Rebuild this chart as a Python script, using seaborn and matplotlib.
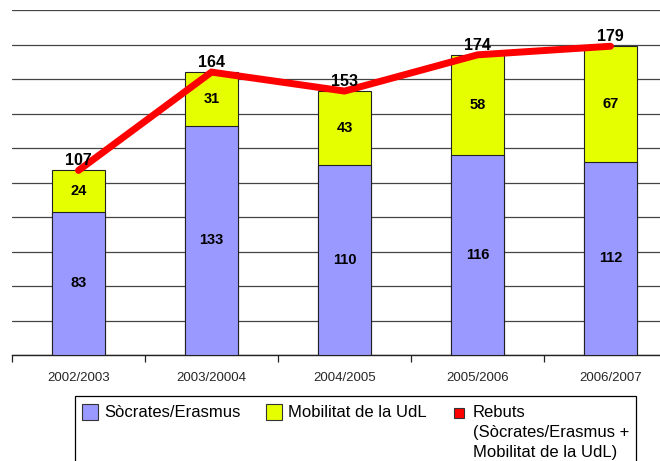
import numpy as np
import matplotlib
matplotlib.use("Agg")
import matplotlib.pyplot as plt
import seaborn as sns
from matplotlib.lines import Line2D
from matplotlib.patches import Rectangle

seasons = ["2002/2003", "2003/20004", "2004/2005", "2005/2006", "2006/2007"]
socrates = [83, 133, 110, 116, 112]
mobilitat = [24, 31, 43, 58, 67]
rebuts = [107, 164, 153, 174, 179]

col_soc = "#9999FF"
col_mob = "#E6FF00"
col_reb = "#FF0000"

sns.set_theme(style="white")
plt.rcParams["font.family"] = ["Liberation Sans", "DejaVu Sans"]

totals = [a + b for a, b in zip(socrates, mobilitat)]

W, H = 660, 461
fig = plt.figure(figsize=(W / 100, H / 100), dpi=100)
ax = fig.add_axes([12 / W, 1 - 355 / H, 665 / W, 345 / H])

# stacked bars: draw the total in yellow, then the bottom part over it
sns.barplot(x=seasons, y=totals, color=col_mob, width=0.4, saturation=1,
            edgecolor="#222222", linewidth=0.8, ax=ax, zorder=2)
sns.barplot(x=seasons, y=socrates, color=col_soc, width=0.4, saturation=1,
            edgecolor="#222222", linewidth=0.8, ax=ax, zorder=3)

sns.lineplot(x=np.arange(len(seasons)), y=rebuts, color=col_reb, linewidth=5,
             sort=False, ax=ax, zorder=5, solid_joinstyle="miter")

for i in range(len(seasons)):
    ax.text(i, socrates[i] / 2, str(socrates[i]), ha="center", va="center",
            fontsize=10.5, fontweight="bold", color="black", zorder=6)
    ax.text(i, socrates[i] + mobilitat[i] / 2, str(mobilitat[i]), ha="center",
            va="center", fontsize=10.5, fontweight="bold", color="black", zorder=6)
    ax.annotate(str(rebuts[i]), (i, rebuts[i]), xytext=(0, 1.5),
                textcoords="offset points", ha="center", va="bottom",
                fontsize=11.5, fontweight="bold", color="black", zorder=6)

ax.set_xlim(-0.5, len(seasons) - 0.5)
ax.set_ylim(0, 200)
ax.set_yticks(np.arange(0, 201, 20))
ax.set_yticklabels([])
ax.yaxis.grid(True, color="#444444", linewidth=0.9, zorder=0)
ax.set_axisbelow(True)
ax.tick_params(axis="y", length=0)
ax.set_xticks(range(len(seasons)))
ax.set_xticklabels(seasons, fontsize=9.5)
ax.set_xticks(np.arange(-0.5, len(seasons), 1), minor=True)
ax.tick_params(axis="x", which="major", length=0, pad=12)
ax.tick_params(axis="x", which="minor", length=5, width=0.9, color="#222222",
               direction="out", bottom=True)
for s in ["top", "right", "left"]:
    ax.spines[s].set_visible(False)
ax.spines["bottom"].set_color("#222222")
ax.spines["bottom"].set_linewidth(1)
ax.set_xlabel("")
ax.set_ylabel("")


# legend drawn by hand (box runs off the bottom of the image as in the source)
def fx(px):
    return px / W


def fy(py):
    return 1 - py / H


fig.patches.append(Rectangle((fx(75), fy(475)), fx(636) - fx(75), fy(396) - fy(475),
                             transform=fig.transFigure, facecolor="white",
                             edgecolor="black", linewidth=0.9, zorder=1))
for x0, c in [(82, col_soc), (266, col_mob)]:
    fig.patches.append(Rectangle((fx(x0), fy(420)), fx(16), 16 / H,
                                 transform=fig.transFigure, facecolor=c,
                                 edgecolor="#333333", linewidth=0.8, zorder=2))
fig.lines.append(Line2D([fx(458.5)], [fy(412.5)], transform=fig.transFigure,
                        marker="s", linestyle="none", markersize=6.5,
                        markerfacecolor=col_reb, markeredgecolor="#333333",
                        markeredgewidth=0.8, zorder=2))
leg_labels = ["Sòcrates/Erasmus", "Mobilitat de la UdL",
              "Rebuts\n(Sòcrates/Erasmus +\nMobilitat de la UdL)"]
for x0, lab in zip([104, 288, 473], leg_labels):
    fig.text(fx(x0), fy(405), lab, ha="left", va="top", fontsize=12,
             linespacing=1.4, color="black", zorder=3)

fig.savefig("out.png", dpi=100)
